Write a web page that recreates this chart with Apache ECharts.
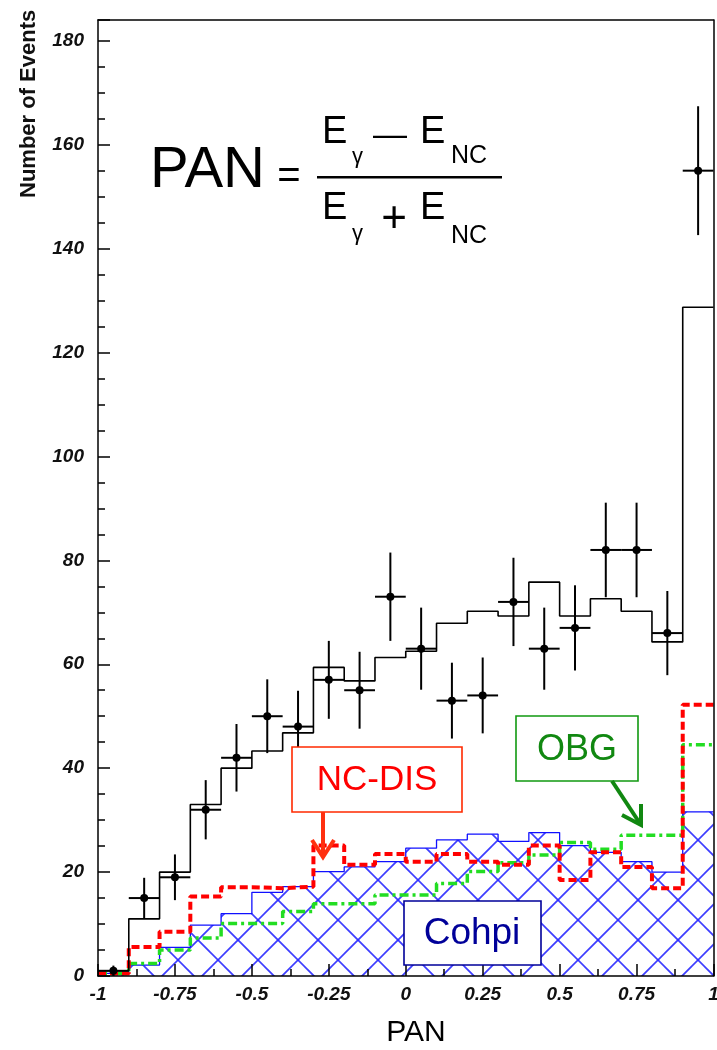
<!DOCTYPE html>
<html>
<head>
<meta charset="utf-8">
<script src="https://cdn.jsdelivr.net/npm/echarts@6/dist/echarts.min.js"></script>
<style>
  html, body { margin: 0; padding: 0; background: #fff; }
  #chart { width: 717px; height: 1050px; }
</style>
</head>
<body>
<div id="chart"></div>
<script>
// Bin edges of the PAN histograms (20 bins of width 0.1)
const binEdges = [-1, -0.9, -0.8, -0.7, -0.6, -0.5, -0.4, -0.3, -0.2, -0.1, 0,
                  0.1, 0.2, 0.3, 0.4, 0.5, 0.6, 0.7, 0.8, 0.9, 1];

// Total Monte Carlo prediction (black histogram)
const mcTotal = [1, 11, 20, 33, 40, 43.3, 46.8, 59.4, 56.8, 61.3,
                 62.5, 67.9, 70.2, 69.3, 75.8, 69.3, 72.6, 70.2, 64.3, 128.7];
// Coherent pi0 component (hatched)
const cohpi = [0.5, 2.1, 5.5, 9.8, 12, 16.1, 17.2, 20.1, 21, 22,
               24.6, 26.2, 27.3, 25.9, 27.6, 25.1, 23.8, 22, 20, 31.6];
// NC deep inelastic component (red dashed)
const ncdis = [0.5, 5.6, 8.5, 15.3, 17.1, 16.9, 17.2, 25.1, 21.4, 23.5,
               22, 23.5, 22, 21.4, 25.1, 18.5, 23.8, 21, 16.9, 52.2];
// Outside background component (green dash-dot)
const obg = [0.5, 2.4, 5, 7.3, 10.1, 10.1, 12.4, 13.9, 13.9, 15.6,
             15.6, 17.8, 20.1, 21.8, 23.3, 25.7, 24.4, 27.1, 27.1, 44.5];

// Data points: bin centres, counts and statistical errors
const pointX = [-0.95, -0.85, -0.75, -0.65, -0.55, -0.45, -0.35, -0.25, -0.15, -0.05,
                0.05, 0.15, 0.25, 0.35, 0.45, 0.55, 0.65, 0.75, 0.85, 0.95];
const pointY = [1, 15, 19, 32, 42, 50, 48, 57, 55, 73,
                63, 53, 54, 72, 63, 67, 82, 82, 66, 155];
const pointErr = [1, 3.9, 4.4, 5.7, 6.5, 7.1, 6.9, 7.5, 7.4, 8.5,
                  7.9, 7.3, 7.3, 8.5, 7.9, 8.2, 9.1, 9.1, 8.1, 12.4];
const binHalfWidth = 0.05;

// Axis tick values
const xTicks = [-1, -0.75, -0.5, -0.25, 0, 0.25, 0.5, 0.75, 1];
const yTicks = [0, 20, 40, 60, 80, 100, 120, 140, 160, 180];
const yMax = 184;

// Histogram as step-line points: left edge of each bin plus the final right edge
function stepData(values) {
  const out = values.map((v, i) => [binEdges[i], v]);
  out.push([binEdges[binEdges.length - 1], values[values.length - 1]]);
  return out;
}

// Cross-hatch tile for the Cohpi fill
function hatchTile() {
  const s = 40;
  const c = document.createElement('canvas');
  c.width = s; c.height = s;
  const g = c.getContext('2d');
  g.strokeStyle = 'rgba(40,40,255,0.9)';
  g.lineWidth = 1.7;
  const off = 18;
  for (let k = -2; k <= 2; k++) {
    const c1 = off + k * s;
    g.beginPath(); g.moveTo(c1 - s, -s); g.lineTo(c1 + 2 * s, 2 * s); g.stroke();   // x - y = c1
    g.beginPath(); g.moveTo(c1 + s, -s); g.lineTo(c1 - 2 * s, 2 * s); g.stroke();   // x + y = c1
  }
  return c;
}

const chart = echarts.init(document.getElementById('chart'), null, { renderer: 'canvas' });

const labelFont = {
  fontFamily: 'Liberation Sans, Arial, sans-serif',
  fontWeight: 'bold', fontStyle: 'italic', fontSize: 19, color: '#111'
};
const FONT = 'Liberation Sans, Arial, sans-serif';

const option = {
  animation: false,
  backgroundColor: '#fff',
  grid: { left: 98, right: 3.5, top: 20, bottom: 74, containLabel: false, outerBoundsMode: 'none' },
  xAxis: [
    {
      type: 'value', min: -1, max: 1, interval: 0.25, z: 10,
      axisLine: { show: true, onZero: false, lineStyle: { color: '#000', width: 1.5 } },
      axisTick: { show: true, inside: true, length: 12, lineStyle: { color: '#000', width: 1.5 } },
      minorTick: { show: true, splitNumber: 2, length: 7, lineStyle: { color: '#000', width: 1.5 } },
      splitLine: { show: false },
      axisLabel: Object.assign({ margin: 9, formatter: v => xTicks.includes(v) ? String(v) : '' }, labelFont)
    },
    {
      type: 'value', position: 'top', min: -1, max: 1, z: 10,
      axisLine: { show: true, onZero: false, lineStyle: { color: '#000', width: 1.5 } },
      axisTick: { show: false }, axisLabel: { show: false }, splitLine: { show: false }
    }
  ],
  yAxis: [
    {
      type: 'value', min: 0, max: yMax, interval: 20, z: 10, position: 'left',
      axisLine: { show: true, onZero: false, lineStyle: { color: '#000', width: 1.5 } },
      axisTick: { show: true, inside: true, length: 12, lineStyle: { color: '#000', width: 1.5 } },
      splitLine: { show: false },
      axisLabel: Object.assign({ margin: 14, formatter: v => yTicks.includes(v) ? String(v) : '' }, labelFont)
    },
    {
      type: 'value', min: 0, max: yMax, interval: 5, position: 'left', z: 10,
      axisLine: { show: false, onZero: false },
      axisTick: { show: true, inside: true, length: 7, lineStyle: { color: '#000', width: 1.5 } },
      axisLabel: { show: false }, splitLine: { show: false }
    },
    {
      type: 'value', min: 0, max: yMax, position: 'right', z: 10,
      axisLine: { show: true, onZero: false, lineStyle: { color: '#000', width: 1.5 } },
      axisTick: { show: false }, axisLabel: { show: false }, splitLine: { show: false }
    }
  ],
  series: [
    {
      name: 'Cohpi', type: 'line', step: 'end', showSymbol: false, z: 2,
      data: stepData(cohpi),
      lineStyle: { color: '#1010ff', width: 1.3 },
      areaStyle: { color: { image: hatchTile(), repeat: 'repeat' }, opacity: 1 }
    },
    {
      name: 'OBG', type: 'line', step: 'end', showSymbol: false, z: 3,
      data: stepData(obg),
      lineStyle: { color: '#22dd22', width: 3.5, type: [9, 4, 3, 4] }
    },
    {
      name: 'NC-DIS', type: 'line', step: 'end', showSymbol: false, z: 4,
      data: stepData(ncdis),
      lineStyle: { color: '#ff0000', width: 4, type: [8, 4] }
    },
    {
      name: 'MC', type: 'line', step: 'end', showSymbol: false, z: 5,
      data: stepData(mcTotal),
      lineStyle: { color: '#000', width: 1.6 }
    },
    {
      name: 'Data', type: 'custom', z: 6,
      data: pointX.map((x, i) => [x, pointY[i], pointErr[i]]),
      renderItem: function (params, api) {
        const x = api.value(0), y = api.value(1), e = api.value(2);
        const c = api.coord([x, y]);
        const top = api.coord([x, y + e]);
        const bot = api.coord([x, Math.max(0, y - e)]);
        const l = api.coord([x - binHalfWidth, y]);
        const r = api.coord([x + binHalfWidth, y]);
        const st = { stroke: '#000', lineWidth: 2 };
        return {
          type: 'group',
          children: [
            { type: 'line', shape: { x1: c[0], y1: top[1], x2: c[0], y2: bot[1] }, style: st },
            { type: 'line', shape: { x1: l[0], y1: c[1], x2: r[0], y2: c[1] }, style: st },
            { type: 'circle', shape: { cx: c[0], cy: c[1], r: 4 }, style: { fill: '#000' } }
          ]
        };
      }
    }
  ],
  graphic: [
    // Axis titles
    { type: 'text', x: 416, y: 1033, z: 20,
      style: { text: 'PAN', font: '30px ' + FONT, fill: '#000', align: 'center', verticalAlign: 'middle' } },
    { type: 'text', x: 29, y: 198, rotation: Math.PI / 2, z: 20,
      style: { text: 'Number of Events', font: 'bold 22px ' + FONT, fill: '#111', align: 'left', verticalAlign: 'middle' } },

    // Definition of PAN
    { type: 'text', x: 150, y: 171, z: 20,
      style: { text: 'PAN', font: '58px ' + FONT, fill: '#000', align: 'left', verticalAlign: 'middle' } },
    { type: 'text', x: 289, y: 177, z: 20,
      style: { text: '=', font: '40px ' + FONT, fill: '#000', align: 'center', verticalAlign: 'middle' } },
    { type: 'rect', z: 20, shape: { x: 317, y: 176, width: 185, height: 2.5 }, style: { fill: '#000' } },
    { type: 'text', x: 322, y: 133, z: 20,
      style: { text: 'E', font: '38px ' + FONT, fill: '#000', align: 'left', verticalAlign: 'middle' } },
    { type: 'text', x: 352, y: 157, z: 20,
      style: { text: 'γ', font: '22px ' + FONT, fill: '#000', align: 'left', verticalAlign: 'middle' } },
    { type: 'text', x: 390, y: 136, z: 20,
      style: { text: '—', font: '34px ' + FONT, fill: '#000', align: 'center', verticalAlign: 'middle' } },
    { type: 'text', x: 420, y: 133, z: 20,
      style: { text: 'E', font: '38px ' + FONT, fill: '#000', align: 'left', verticalAlign: 'middle' } },
    { type: 'text', x: 451, y: 156, z: 20,
      style: { text: 'NC', font: '25px ' + FONT, fill: '#000', align: 'left', verticalAlign: 'middle' } },
    { type: 'text', x: 322, y: 209, z: 20,
      style: { text: 'E', font: '38px ' + FONT, fill: '#000', align: 'left', verticalAlign: 'middle' } },
    { type: 'text', x: 352, y: 234, z: 20,
      style: { text: 'γ', font: '22px ' + FONT, fill: '#000', align: 'left', verticalAlign: 'middle' } },
    { type: 'text', x: 394, y: 220, z: 20,
      style: { text: '+', font: '44px ' + FONT, fill: '#000', align: 'center', verticalAlign: 'middle' } },
    { type: 'text', x: 420, y: 209, z: 20,
      style: { text: 'E', font: '38px ' + FONT, fill: '#000', align: 'left', verticalAlign: 'middle' } },
    { type: 'text', x: 451, y: 236, z: 20,
      style: { text: 'NC', font: '25px ' + FONT, fill: '#000', align: 'left', verticalAlign: 'middle' } },

    // NC-DIS label with arrow
    { type: 'rect', z: 20, shape: { x: 292, y: 747, width: 170, height: 65 },
      style: { fill: '#fff', stroke: '#ff2a00', lineWidth: 1.6 } },
    { type: 'text', x: 377, y: 780, z: 21,
      style: { text: 'NC-DIS', font: '35px ' + FONT, fill: '#ff0000', align: 'center', verticalAlign: 'middle' } },
    { type: 'polyline', z: 20, shape: { points: [[323, 812], [323, 856]] },
      style: { stroke: '#ff3010', lineWidth: 4, fill: null } },
    { type: 'polyline', z: 20, shape: { points: [[312, 840], [323, 857], [334, 840]] },
      style: { stroke: '#ff3010', lineWidth: 4, fill: null } },

    // OBG label with arrow
    { type: 'rect', z: 20, shape: { x: 516, y: 716, width: 122, height: 65 },
      style: { fill: '#fff', stroke: '#119911', lineWidth: 1.6 } },
    { type: 'text', x: 577, y: 750, z: 21,
      style: { text: 'OBG', font: '36px ' + FONT, fill: '#118811', align: 'center', verticalAlign: 'middle' } },
    { type: 'polyline', z: 20, shape: { points: [[612, 781], [639, 822]] },
      style: { stroke: '#118811', lineWidth: 4, fill: null } },
    { type: 'polyline', z: 20, shape: { points: [[622, 815], [641, 825], [641, 804]] },
      style: { stroke: '#118811', lineWidth: 4, fill: null } },

    // Cohpi label
    { type: 'rect', z: 20, shape: { x: 404, y: 901, width: 137, height: 64 },
      style: { fill: '#fff', stroke: '#000099', lineWidth: 1.6 } },
    { type: 'text', x: 472, y: 934, z: 21,
      style: { text: 'Cohpi', font: '37px ' + FONT, fill: '#000099', align: 'center', verticalAlign: 'middle' } }
  ]
};

chart.setOption(option);
</script>
</body>
</html>
